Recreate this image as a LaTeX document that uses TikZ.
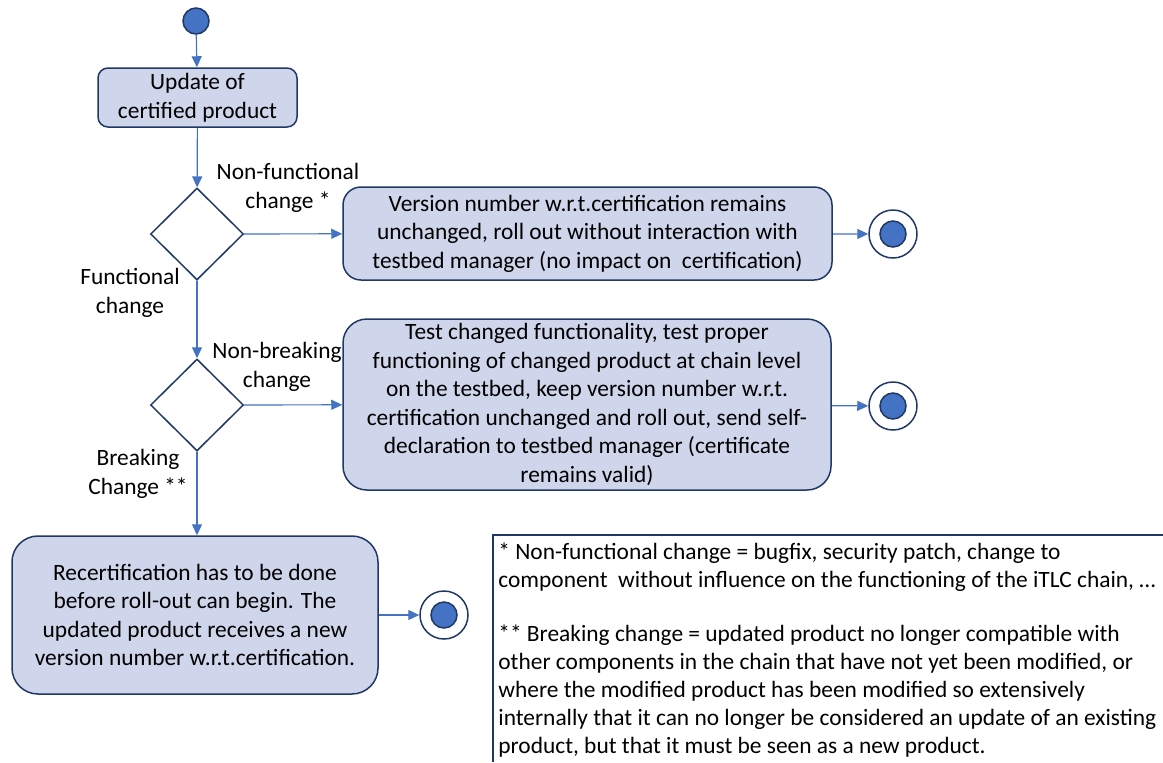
\documentclass[tikz,border=0pt]{standalone}
\usepackage{fontspec}
\setmainfont{Carlito}
\usetikzlibrary{shapes.geometric,arrows.meta}

\definecolor{boxfill}{RGB}{207,213,234}
\definecolor{boxline}{RGB}{31,56,100}
\definecolor{flowblue}{RGB}{68,114,196}

\tikzset{
    txt/.style={font=\fontsize{11.7}{14.3}\selectfont},
    actbox/.style={txt, draw=boxline, fill=boxfill, line width=0.75pt, align=center, inner sep=0pt},
    decision/.style={diamond, draw=boxline, line width=0.75pt, minimum width=46.5pt, minimum height=46pt, inner sep=0pt},
    startdot/.style={circle, draw=boxline, fill=flowblue, line width=0.75pt, minimum size=13pt, inner sep=0pt},
    enddot/.style={circle, draw=boxline, fill=white, line width=0.75pt, minimum size=24pt, inner sep=0pt,
        path picture={\filldraw[fill=flowblue, draw=boxline, line width=0.75pt] (path picture bounding box.center) circle (6.5pt);}},
    flow/.style={draw=flowblue, line width=0.6pt, -{Triangle[length=5.5pt,width=5pt]}},
    lbl/.style={txt, align=center, inner sep=0pt}
}

\begin{document}
\begin{tikzpicture}[x=0.5pt,y=-0.5pt]
    \useasboundingbox (0,0) rectangle (1163,762);

    %nodes of the flow:
    \node[startdot] (start) at (196,21) {};
    \node[actbox, rounded corners=5pt, minimum width=99.5pt, minimum height=29.5pt] (update) at (197.5,97.5) {Update of\\certified product};
    \node[decision] (nonfunc) at (197,234) {};
    \node[actbox, rounded corners=9pt, minimum width=244.5pt, minimum height=46.5pt] (keepver) at (587.5,233.5)
        {Version number w.r.t.certification remains\\unchanged, roll out without interaction with\\testbed manager (no impact on\ \ certification)};
    \node[enddot] (endA) at (893,234) {};
    \node[decision] (nonbreak) at (197,405) {};
    \node[actbox, rounded corners=12pt, minimum width=244pt, minimum height=85.5pt] (retest) at (587,404.5)
        {Test changed functionality, test proper\\functioning of changed product at chain level\\on the testbed, keep version number w.r.t.\\certification unchanged and roll out, send self-\\declaration to testbed manager (certificate\\remains valid)};
    \node[enddot] (endB) at (893,406) {};
    \node[actbox, rounded corners=13pt, minimum width=183pt, minimum height=79pt] (recert) at (195,615)
        {Recertification has to be done\\before roll-out can begin. The\\updated product receives a new\\version number w.r.t.certification.};
    \node[enddot] (endC) at (444,615) {};

    %labels:
    \node[lbl] (lblnf) at (288,188) {Non-functional\\change *};
    \node[lbl] (lblf) at (130,293) {Functional\\change};
    \node[lbl] (lblnb) at (277,367) {Non-breaking\\change};
    \node[lbl] (lblb) at (138,474) {Breaking\\Change **};

    %connectors:
    \draw[flow] (start) -- (update);
    \draw[flow] (update) -- (nonfunc);
    \draw[flow] (nonfunc) -- (keepver);
    \draw[flow] (keepver) -- (endA);
    \draw[flow] (nonfunc) -- (nonbreak);
    \draw[flow] (nonbreak) -- (retest);
    \draw[flow] (retest) -- (endB);
    \draw[flow] (nonbreak.south) -- (nonbreak.south |- recert.north);
    \draw[flow] (recert) -- (endC);

    %footnote box:
    \draw[boxline, line width=0.6pt] (1163,535) -- (493,535) -- (493,762);
    \node[txt, font=\fontsize{11.7}{14}\selectfont, anchor=north west, align=left, inner sep=0pt] (notes) at (498,542)
        {* Non-functional change = bugfix, security patch, change to\\
         component\ \ without influence on the functioning of the iTLC chain, \dots\\[13pt]
         ** Breaking change = updated product no longer compatible with\\
         other components in the chain that have not yet been modified, or\\
         where the modified product has been modified so extensively\\
         internally that it can no longer be considered an update of an existing\\
         product, but that it must be seen as a new product.};

\end{tikzpicture}
\end{document}
